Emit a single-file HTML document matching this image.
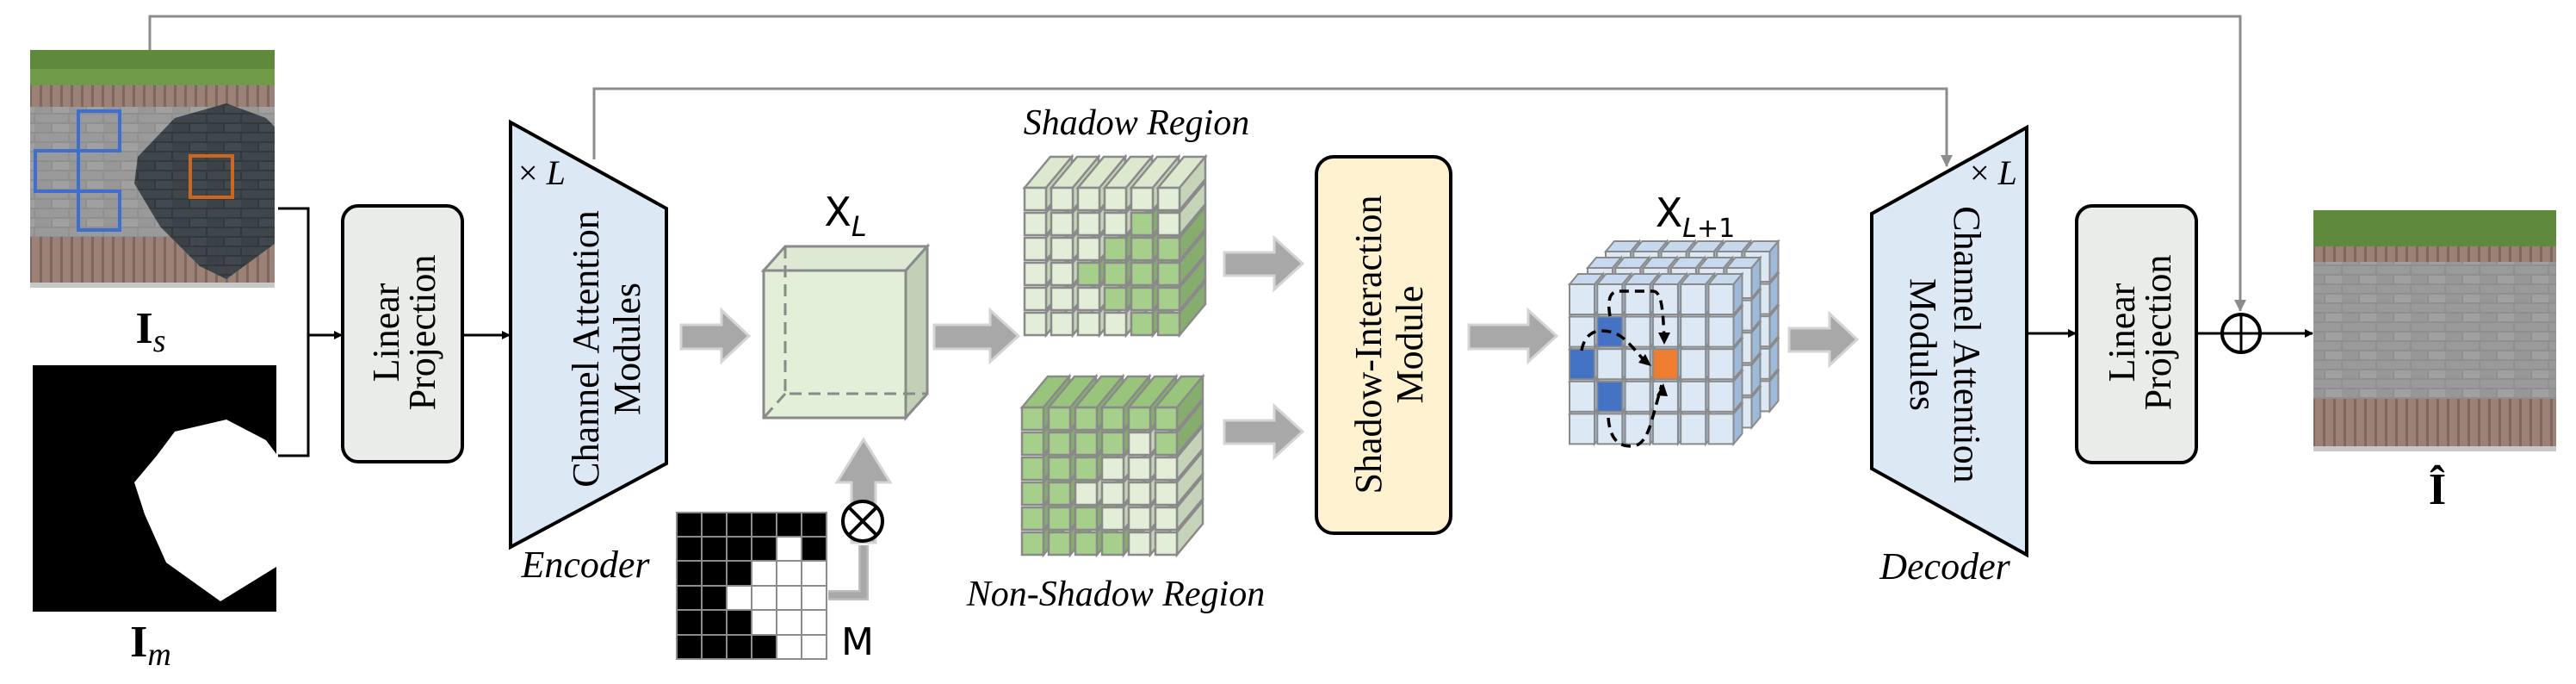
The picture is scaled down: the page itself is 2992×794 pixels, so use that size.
<!DOCTYPE html>
<html><head><meta charset="utf-8"><style>html,body{margin:0;padding:0;background:#fff}svg{display:block}</style></head>
<body>
<svg xmlns="http://www.w3.org/2000/svg" width="2992" height="794" viewBox="0 0 2992 794" font-family="'Liberation Serif', serif">
<defs>
<marker id="ab" markerWidth="10" markerHeight="10" refX="9" refY="5" orient="auto" markerUnits="userSpaceOnUse"><path d="M0,0 L10,5 L0,10 z" fill="#000"/></marker>
<marker id="ag" markerWidth="14" markerHeight="14" refX="13" refY="7" orient="auto" markerUnits="userSpaceOnUse"><path d="M0,0 L14,7 L0,14 z" fill="#8c8c8c"/></marker>
<marker id="ad" markerWidth="16" markerHeight="16" refX="15" refY="8" orient="auto" markerUnits="userSpaceOnUse"><path d="M0,1 L16,8 L0,15 z" fill="#000"/></marker>
<pattern id="pave" width="40" height="22" patternUnits="userSpaceOnUse"><rect width="40" height="22" fill="#8f8f8f"/><rect x="1" y="1" width="38" height="9" fill="#9a9a9a"/><rect x="-19" y="12" width="38" height="9" fill="#979797"/><rect x="21" y="12" width="38" height="9" fill="#a0a0a0"/></pattern>
<pattern id="pave2" width="40" height="22" patternUnits="userSpaceOnUse"><rect width="40" height="22" fill="#2d3439"/><rect x="1" y="1" width="38" height="9" fill="#3a4248"/><rect x="-19" y="12" width="38" height="9" fill="#363e44"/><rect x="21" y="12" width="38" height="9" fill="#3d454b"/></pattern>
<pattern id="brick" width="12" height="60" patternUnits="userSpaceOnUse"><rect width="12" height="60" fill="#7d675f"/><rect x="1" y="0" width="9" height="60" fill="#9c8176"/></pattern>
<clipPath id="clipIs"><rect x="35" y="58" width="284" height="276"/></clipPath>
</defs>

<!-- skip lines -->
<polyline points="174,58 174,19 2602,19 2602,361" fill="none" stroke="#8c8c8c" stroke-width="3" marker-end="url(#ag)"/>
<polyline points="690,185 690,103 2261,103 2261,193" fill="none" stroke="#8c8c8c" stroke-width="3" marker-end="url(#ag)"/>

<!-- Is image -->
<g clip-path="url(#clipIs)">
<rect x="35" y="58" width="284" height="276" fill="url(#pave)"/>
<rect x="35" y="58" width="284" height="42" fill="#5f8a3c"/>
<rect x="35" y="80" width="284" height="20" fill="#6f9a48"/>
<rect x="35" y="99" width="284" height="25" fill="url(#brick)"/>
<rect x="35" y="275" width="284" height="55" fill="url(#brick)"/>
<rect x="35" y="328" width="284" height="6" fill="#c8c8c8"/>
<polygon points="203,137 263,120 309,137 319,147 319,283 263,324 232,309 186,263 156,213 160,182" fill="url(#pave2)" opacity="0.95"/>
</g>
<g fill="none" stroke="#3e6fd0" stroke-width="4">
<rect x="91" y="129" width="48" height="46"/><rect x="41" y="175" width="50" height="47"/><rect x="91" y="222" width="48" height="45"/>
</g>
<rect x="221" y="181" width="49" height="48" fill="none" stroke="#d0661e" stroke-width="4"/>
<text x="175" y="398" font-size="52" font-weight="bold" text-anchor="middle">I<tspan font-size="38" font-style="italic" font-weight="normal" dy="10">s</tspan></text>

<!-- Im mask -->
<rect x="38" y="424" width="283" height="286" fill="#000"/>
<polygon points="203,501 263,487 309,511 321,527 321,658 256,698 193,653 168,597 156,560 182,529" fill="#fff"/>
<text x="175" y="762" font-size="52" font-weight="bold" text-anchor="middle">I<tspan font-size="38" font-style="italic" font-weight="normal" dy="10">m</tspan></text>

<!-- bracket -->
<polyline points="323,242 358,242 358,529 323,529" fill="none" stroke="#000" stroke-width="3"/>
<line x1="358" y1="389" x2="397" y2="389" stroke="#000" stroke-width="3" marker-end="url(#ab)"/>

<!-- Linear projection 1 -->
<rect x="398" y="239" width="139" height="297" rx="18" fill="#e9ece9" stroke="#000" stroke-width="4"/>
<text transform="translate(467,386) rotate(-90)" font-size="44" text-anchor="middle"><tspan x="0" y="-4">Linear</tspan><tspan x="0" y="38">Projection</tspan></text>
<line x1="537" y1="389" x2="592" y2="389" stroke="#000" stroke-width="3" marker-end="url(#ab)"/>

<!-- Encoder -->
<polygon points="593,142 774,242 774,538 593,635" fill="#dde8f5" stroke="#000" stroke-width="4"/>
<text x="602" y="214" font-size="40"><tspan>×</tspan> <tspan font-style="italic">L</tspan></text>
<text transform="translate(701,405) rotate(-90)" font-size="44" text-anchor="middle"><tspan x="0" y="-6">Channel Attention</tspan><tspan x="0" y="42">Modules</tspan></text>
<text x="680" y="670" font-size="44" font-style="italic" text-anchor="middle">Encoder</text>

<!-- gray arrows -->
<g fill="#a8a8a8" stroke="#d4d4d4" stroke-width="3">
<polygon points="791,377 838,377 838,360 870,390 838,420 838,405 791,405"/>
<polygon points="1085,377 1150,377 1150,360 1183,390 1150,420 1150,405 1085,405"/>
<polygon points="1422,293 1480,293 1480,276 1513,306 1480,336 1480,320 1422,320"/>
<polygon points="1422,488 1480,488 1480,471 1513,501 1480,531 1480,515 1422,515"/>
<polygon points="1706,377 1775,377 1775,360 1808,390 1775,420 1775,405 1706,405"/>
<polygon points="2078,381 2125,381 2125,364 2157,394 2125,424 2125,408 2078,408"/>
<polygon points="989,630 989,560 972,560 1003,510 1034,560 1017,560 1017,630"/>
</g>

<!-- cube XL -->
<g stroke="#8a8a8a" stroke-width="3">
<polygon points="887,314 912,286 1077,286 1052,314" fill="#dde9d2"/>
<polygon points="1052,314 1077,286 1077,457 1052,485" fill="#c3d0b8"/>
<rect x="887" y="314" width="165" height="171" fill="#e3efd9"/>
</g>
<g stroke="#8a8a8a" stroke-width="3" stroke-dasharray="14,8" fill="none">
<polyline points="912,286 912,457 1077,457"/><line x1="912" y1="457" x2="887" y2="485"/>
</g>
<text x="982" y="262" font-size="46" text-anchor="middle" font-family="'DejaVu Sans', sans-serif">X<tspan font-size="32" font-style="italic" dy="12">L</tspan></text>

<!-- M grid -->
<g stroke="#8c8c8c" stroke-width="2">
<g fill="#000">
<rect x="786" y="595" width="29" height="28"/><rect x="815" y="595" width="29" height="28"/><rect x="844" y="595" width="29" height="28"/><rect x="873" y="595" width="29" height="28"/><rect x="902" y="595" width="29" height="28"/><rect x="931" y="595" width="29" height="28"/>
<rect x="786" y="623" width="29" height="28"/><rect x="815" y="623" width="29" height="28"/><rect x="844" y="623" width="29" height="28"/><rect x="873" y="623" width="29" height="28"/><rect x="931" y="623" width="29" height="28"/>
<rect x="786" y="651" width="29" height="29"/><rect x="815" y="651" width="29" height="29"/><rect x="844" y="651" width="29" height="29"/>
<rect x="786" y="680" width="29" height="28"/><rect x="815" y="680" width="29" height="28"/>
<rect x="786" y="708" width="29" height="29"/><rect x="815" y="708" width="29" height="29"/><rect x="844" y="708" width="29" height="29"/>
<rect x="786" y="737" width="29" height="28"/><rect x="815" y="737" width="29" height="28"/><rect x="844" y="737" width="29" height="28"/><rect x="873" y="737" width="29" height="28"/>
</g>
<g fill="#fff">
<rect x="902" y="623" width="29" height="28"/>
<rect x="873" y="651" width="29" height="29"/><rect x="902" y="651" width="29" height="29"/><rect x="931" y="651" width="29" height="29"/>
<rect x="844" y="680" width="29" height="28"/><rect x="873" y="680" width="29" height="28"/><rect x="902" y="680" width="29" height="28"/><rect x="931" y="680" width="29" height="28"/>
<rect x="873" y="708" width="29" height="29"/><rect x="902" y="708" width="29" height="29"/><rect x="931" y="708" width="29" height="29"/>
<rect x="902" y="737" width="29" height="28"/><rect x="931" y="737" width="29" height="28"/>
</g>
</g>
<polyline points="962,691 1003,691 1003,633" fill="none" stroke="#bdbdbd" stroke-width="12"/>
<polyline points="962,691 1003,691 1003,633" fill="none" stroke="#a8a8a8" stroke-width="7"/>
<circle cx="1002" cy="605" r="23" fill="#fff" stroke="#000" stroke-width="4"/>
<line x1="986" y1="589" x2="1018" y2="621" stroke="#000" stroke-width="4"/><line x1="1018" y1="589" x2="986" y2="621" stroke="#000" stroke-width="4"/>
<text x="996" y="760" font-size="44" text-anchor="middle" font-family="'DejaVu Sans', sans-serif">M</text>

<!-- shadow region cubes -->
<text x="1320" y="156" font-size="42" font-style="italic" text-anchor="middle">Shadow Region</text>
<text x="1296" y="703" font-size="42" font-style="italic" text-anchor="middle">Non-Shadow Region</text>
<g id="sr" stroke="#8a8a8a" stroke-width="2.5"></g>
<g id="ns" stroke="#8a8a8a" stroke-width="2.5"></g>

<!-- SIM -->
<rect x="1529" y="182" width="156" height="437" rx="20" fill="#fff2d0" stroke="#000" stroke-width="4"/>
<text transform="translate(1607,400) rotate(-90)" font-size="44" text-anchor="middle"><tspan x="0" y="-3">Shadow-Interaction</tspan><tspan x="0" y="45">Module</tspan></text>

<!-- X L+1 -->
<text x="1969" y="263" font-size="46" text-anchor="middle" font-family="'DejaVu Sans', sans-serif">X<tspan font-size="30" font-style="italic" dy="12">L</tspan><tspan font-size="30" dy="0">+1</tspan></text>
<g id="bc" stroke="#8a8a8a" stroke-width="2"></g>
<g fill="none" stroke="#000" stroke-width="3.5" stroke-dasharray="11,7">
<path d="M1870,367 C1866,345 1872,338 1880,338 L1920,338 C1930,338 1932,360 1933,400"/>
<path d="M1837,407 C1840,390 1850,384 1860,384 C1885,384 1892,400 1915,424"/>
<path d="M1868,485 C1870,510 1880,518 1895,518 C1905,518 1912,510 1918,490 L1930,447"/>
</g>
<path d="M1933,400 l-7,-14 l14,0 z" fill="#000"/>
<path d="M1918,425 l-15,-4 l8,-10 z" fill="#000"/>
<path d="M1932,445 l-8,14 l13,1 z" fill="#000"/>

<!-- Decoder -->
<polygon points="2174,248 2354,148 2354,644 2174,544" fill="#dde8f5" stroke="#000" stroke-width="4"/>
<text x="2288" y="214" font-size="40"><tspan>×</tspan> <tspan font-style="italic">L</tspan></text>
<text transform="translate(2259,400) rotate(90)" font-size="44" text-anchor="middle"><tspan x="0" y="-11">Channel Attention</tspan><tspan x="0" y="40">Modules</tspan></text>
<text x="2259" y="672" font-size="44" font-style="italic" text-anchor="middle">Decoder</text>
<line x1="2354" y1="387" x2="2411" y2="387" stroke="#000" stroke-width="3" marker-end="url(#ab)"/>

<!-- Linear projection 2 -->
<rect x="2412" y="239" width="139" height="298" rx="18" fill="#e9ece9" stroke="#000" stroke-width="4"/>
<text transform="translate(2483,386) rotate(-90)" font-size="44" text-anchor="middle"><tspan x="0" y="-4">Linear</tspan><tspan x="0" y="38">Projection</tspan></text>
<line x1="2551" y1="387" x2="2580" y2="387" stroke="#000" stroke-width="3"/>
<circle cx="2603" cy="387" r="22" fill="#fff" stroke="#000" stroke-width="4"/>
<line x1="2581" y1="387" x2="2625" y2="387" stroke="#000" stroke-width="3"/><line x1="2603" y1="365" x2="2603" y2="409" stroke="#000" stroke-width="3"/>
<line x1="2625" y1="387" x2="2686" y2="387" stroke="#000" stroke-width="3" marker-end="url(#ab)"/>

<!-- output image -->
<rect x="2687" y="244" width="282" height="280" fill="url(#pave)"/>
<rect x="2687" y="244" width="282" height="43" fill="#5f8a3c"/>
<rect x="2687" y="286" width="282" height="18" fill="url(#brick)"/>
<rect x="2687" y="463" width="282" height="56" fill="url(#brick)"/>
<rect x="2687" y="518" width="282" height="6" fill="#c8c8c8"/>
<text x="2831" y="585" font-size="52" font-weight="bold" text-anchor="middle">Î</text>

<script>
(function(){
var NS="http://www.w3.org/2000/svg";
function el(p,t,a){var e=document.createElementNS(NS,t);for(var k in a)e.setAttribute(k,a[k]);p.appendChild(e);return e;}
var M=["111111","111101","111000","110000","111000","111100"];
function region(id,x0,y0,inv){
 var g=document.getElementById(id);var pw=31,w=25,ph=29,h=26,dx=30,dy=-36;
 for(var c=0;c<6;c++){
  var x=x0+c*pw;
  var topDark=inv;
  el(g,"polygon",{points:[x,y0,x+dx,y0+dy,x+w+dx,y0+dy,x+w,y0].join(","),fill:topDark?"#98c47c":"#dce9cf"});
  for(var r=0;r<6;r++){
   var y=y0+r*ph;var m=M[r][c]=="1";var dark=inv?m:!m;
   el(g,"polygon",{points:[x+w,y,x+w+dx,y+dy,x+w+dx,y+dy+h,x+w,y+h].join(","),fill:dark?"#86ad6d":"#c5d3b9"});
   el(g,"rect",{x:x,y:y,width:w,height:h,fill:dark?"#a6cf8b":"#e3eed8"});
  }
 }
}
region("sr",1190,218,false);
region("ns",1187,473,true);
var g=document.getElementById("bc");
var pw=32.3,w=29,ph=37.6,h=35,ddx=10,ddy=-12;
for(var L=2;L>=0;L--){
 var ox=1823+L*21,oy=330-L*19;
 for(var r=4;r>=0;r--)for(var c=0;c<6;c++){
  var x=ox+c*pw,y=oy+r*ph;
  var f="#dde8f5";
  if(L==0){if((c==1&&r==1)||(c==0&&r==2)||(c==1&&r==3))f="#4472c4";if(c==3&&r==2)f="#ed7d31";}
  el(g,"polygon",{points:[x,y,x+ddx,y+ddy,x+w+ddx,y+ddy,x+w,y].join(","),fill:"#c6d9ee"});
  el(g,"polygon",{points:[x+w,y,x+w+ddx,y+ddy,x+w+ddx,y+ddy+h,x+w,y+h].join(","),fill:"#9dbadb"});
  el(g,"rect",{x:x,y:y,width:w,height:h,fill:f});
 }
}
})();
</script>
</svg>
</body></html>
